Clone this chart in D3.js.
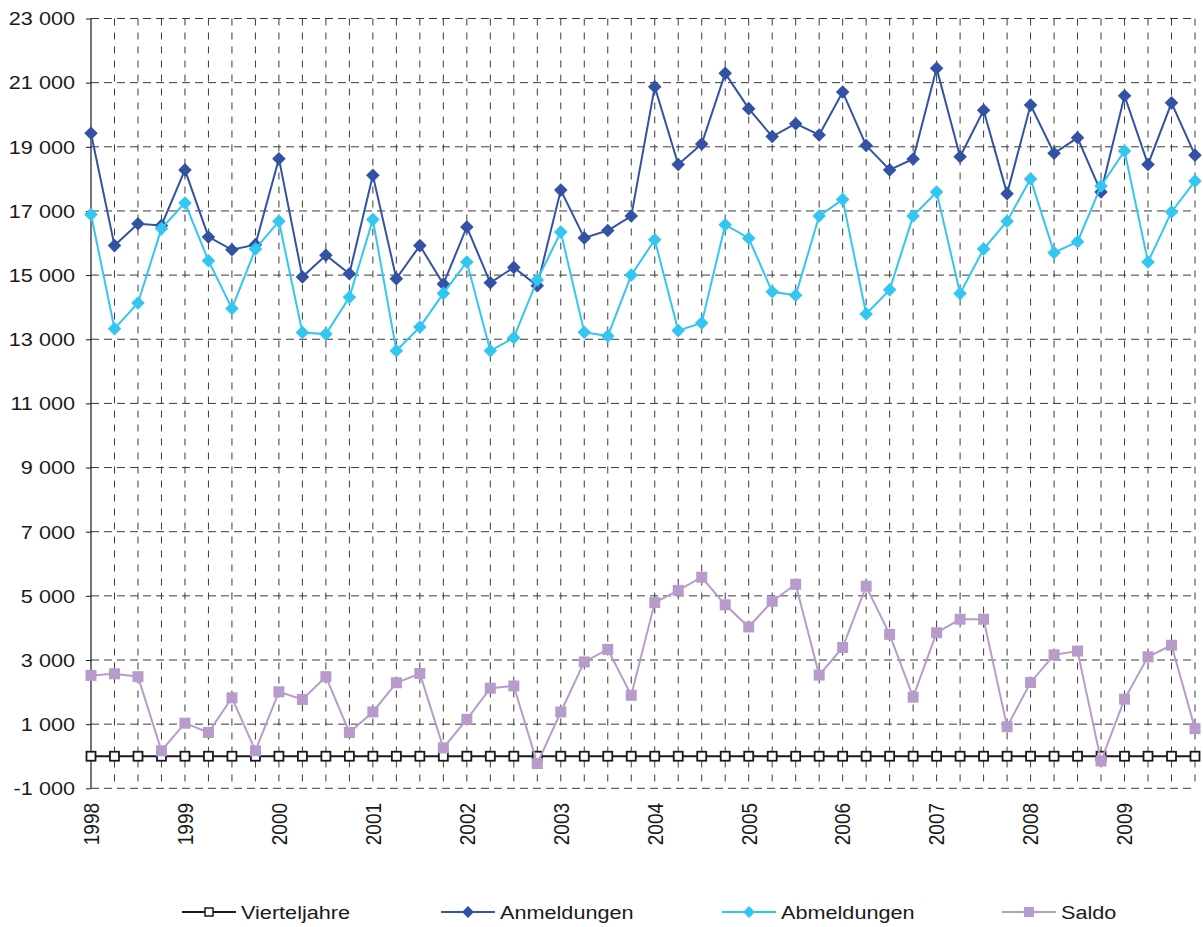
<!DOCTYPE html>
<html>
<head>
<meta charset="utf-8">
<script src="https://cdn.jsdelivr.net/npm/d3@7"></script>
<style>
  body { margin: 0; background: #fff; }
  text { font-family: "Liberation Sans", Arial, sans-serif; fill: #1a1a1a; }
</style>
</head>
<body>
<svg id="chart" width="1203" height="927"></svg>
<script>
var years = [1998, 1999, 2000, 2001, 2002, 2003, 2004, 2005, 2006, 2007, 2008, 2009];
var quarterNames = ["Q1", "Q2", "Q3", "Q4"];
var yTicks = [-1000, 1000, 3000, 5000, 7000, 9000, 11000, 13000, 15000, 17000, 19000, 21000, 23000];

var vierteljahre = [
  0, 0, 0, 0, 0, 0, 0, 0, 0, 0, 0, 0,
  0, 0, 0, 0, 0, 0, 0, 0, 0, 0, 0, 0,
  0, 0, 0, 0, 0, 0, 0, 0, 0, 0, 0, 0,
  0, 0, 0, 0, 0, 0, 0, 0, 0, 0, 0, 0
];
var anmeldungen = [
  19420, 15920, 16600, 16550,
  18280, 16190, 15790, 15950,
  18630, 14940, 15620, 15040,
  18110, 14890, 15920, 14720,
  16500, 14760, 15240, 14670,
  17650, 16160, 16390, 16840,
  20870, 18450, 19090, 21290,
  20190, 19320, 19720, 19370,
  20710, 19040, 18280, 18620,
  21450, 18690, 20140, 17540,
  20300, 18800, 19280, 17590,
  20590, 18450, 20370, 18740
];
var abmeldungen = [
  16890, 13330, 14130, 16450,
  17250, 15450, 13960, 15810,
  16680, 13210, 13160, 14310,
  16730, 12640, 13380, 14430,
  15410, 12640, 13050, 14850,
  16340, 13220, 13100, 15000,
  16100, 13270, 13510, 16570,
  16150, 14480, 14370, 16840,
  17360, 13790, 14540, 16840,
  17590, 14430, 15810, 16680,
  18000, 15700, 16040, 17780,
  18870, 15410, 16970, 17930
];
var saldo = [
  2520, 2570, 2480, 170,
  1030, 740, 1820, 170,
  2010, 1770, 2480, 740,
  1380, 2290, 2580, 260,
  1150, 2120, 2190, -230,
  1380, 2940, 3330, 1900,
  4790, 5170, 5580, 4720,
  4030, 4830, 5360, 2530,
  3390, 5300, 3800, 1840,
  3850, 4270, 4270, 920,
  2300, 3160, 3280, -150,
  1780, 3100, 3460, 860
];

var quarters = [];
years.forEach(function(yr) {
  quarterNames.forEach(function(q) { quarters.push(yr + " " + q); });
});

var series = [
  { name: "Vierteljahre", values: vierteljahre, color: "#1a1a1a", marker: "open" },
  { name: "Anmeldungen", values: anmeldungen, color: "#3452a4", marker: "diamond" },
  { name: "Abmeldungen", values: abmeldungen, color: "#33c6f0", marker: "diamond" },
  { name: "Saldo", values: saldo, color: "#b89bcb", marker: "square" }
];

var svg = d3.select("#chart");
var plotLeft = 91, plotRight = 1195, plotTop = 18.5, plotBottom = 788.3;
var stretch = 1.14; // the reference text is a little wider than normal

var x = d3.scalePoint().domain(quarters).range([plotLeft, plotRight]);
var y = d3.scaleLinear().domain([-1000, 23000]).range([plotBottom, plotTop]);

// grid
var grid = svg.append("g");
grid.selectAll("line.h")
  .data(yTicks)
  .enter().append("line")
    .attr("class", "h")
    .attr("x1", plotLeft).attr("x2", plotRight)
    .attr("y1", function(d) { return y(d); })
    .attr("y2", function(d) { return y(d); })
    .attr("stroke", "#3a3a3a")
    .attr("stroke-width", 1)
    .attr("stroke-dasharray", "8,5");

grid.selectAll("line.v")
  .data(quarters.slice(1))
  .enter().append("line")
    .attr("class", "v")
    .attr("x1", function(d) { return x(d); })
    .attr("x2", function(d) { return x(d); })
    .attr("y1", plotTop).attr("y2", plotBottom)
    .attr("stroke", "#3a3a3a")
    .attr("stroke-width", 1)
    .attr("stroke-dasharray", "7,7");

// y axis
var yAxis = svg.append("g")
  .attr("transform", "translate(" + plotLeft + ",0)")
  .call(d3.axisLeft(y).tickValues(yTicks).tickSize(5).tickFormat(function() { return ""; }));
yAxis.select(".domain").attr("stroke", "#1a1a1a").attr("stroke-width", 1.2).attr("d", "M0," + plotTop + "V" + plotBottom);
yAxis.selectAll(".tick line").attr("stroke", "#1a1a1a");

var fmt = function(d) { return d3.format(",")(d).replace(/,/g, " ").replace("\u2212", "-"); };
svg.append("g").selectAll("text")
  .data(yTicks)
  .enter().append("text")
    .attr("transform", function(d) { return "translate(75," + y(d) + ") scale(" + stretch + ",1)"; })
    .attr("text-anchor", "end")
    .attr("dy", "0.36em")
    .style("font-size", "19px")
    .text(fmt);

// x labels (years on Q1)
svg.append("g").selectAll("text")
  .data(quarters.filter(function(q) { return q.indexOf("Q1") > 0; }))
  .enter().append("text")
    .attr("transform", function(d) { return "translate(" + x(d) + ",803) scale(" + stretch + ",1) rotate(-90)"; })
    .attr("text-anchor", "end")
    .attr("dy", "0.36em")
    .style("font-size", "19px")
    .text(function(d) { return d.slice(0, 4); });

// series
var line = d3.line()
  .x(function(d, i) { return x(quarters[i]); })
  .y(function(d) { return y(d); });

series.forEach(function(s) {
  var g = svg.append("g");
  g.append("path")
    .datum(s.values)
    .attr("d", line)
    .attr("fill", "none")
    .attr("stroke", s.color)
    .attr("stroke-width", 2);

  var pts = g.selectAll("g.pt")
    .data(s.values)
    .enter().append("g")
      .attr("class", "pt")
      .attr("transform", function(d, i) { return "translate(" + x(quarters[i]) + "," + y(d) + ")"; });

  if (s.marker === "diamond") {
    pts.append("rect")
      .attr("x", -4.8).attr("y", -4.8).attr("width", 9.6).attr("height", 9.6)
      .attr("transform", "rotate(45)")
      .attr("fill", s.color);
  } else if (s.marker === "square") {
    pts.append("rect")
      .attr("x", -5.5).attr("y", -5.5).attr("width", 11).attr("height", 11)
      .attr("fill", s.color);
  } else {
    pts.append("rect")
      .attr("x", -4.5).attr("y", -4.5).attr("width", 9).attr("height", 9)
      .attr("fill", "#fff")
      .attr("stroke", s.color)
      .attr("stroke-width", 1.8);
  }
});

// legend
var legendX = [182, 441, 722, 1002];
var legend = svg.append("g").selectAll("g")
  .data(series)
  .enter().append("g")
    .attr("transform", function(d, i) { return "translate(" + legendX[i] + ",912)"; });

legend.append("line")
  .attr("x1", 0).attr("x2", 54)
  .attr("stroke", function(d) { return d.color; })
  .attr("stroke-width", 2);

legend.each(function(s) {
  var g = d3.select(this);
  if (s.marker === "diamond") {
    g.append("rect")
      .attr("x", -4.2).attr("y", -4.2).attr("width", 8.4).attr("height", 8.4)
      .attr("transform", "translate(27,0) rotate(45)")
      .attr("fill", s.color);
  } else if (s.marker === "square") {
    g.append("rect")
      .attr("x", 22).attr("y", -5).attr("width", 10).attr("height", 10)
      .attr("fill", s.color);
  } else {
    g.append("rect")
      .attr("x", 23).attr("y", -4).attr("width", 8).attr("height", 8)
      .attr("fill", "#fff")
      .attr("stroke", s.color)
      .attr("stroke-width", 1.5);
  }
});

legend.append("text")
  .attr("transform", "translate(59,0) scale(" + stretch + ",1)")
  .attr("dy", "0.36em")
  .style("font-size", "19px")
  .text(function(d) { return d.name; });
</script>
</body>
</html>
